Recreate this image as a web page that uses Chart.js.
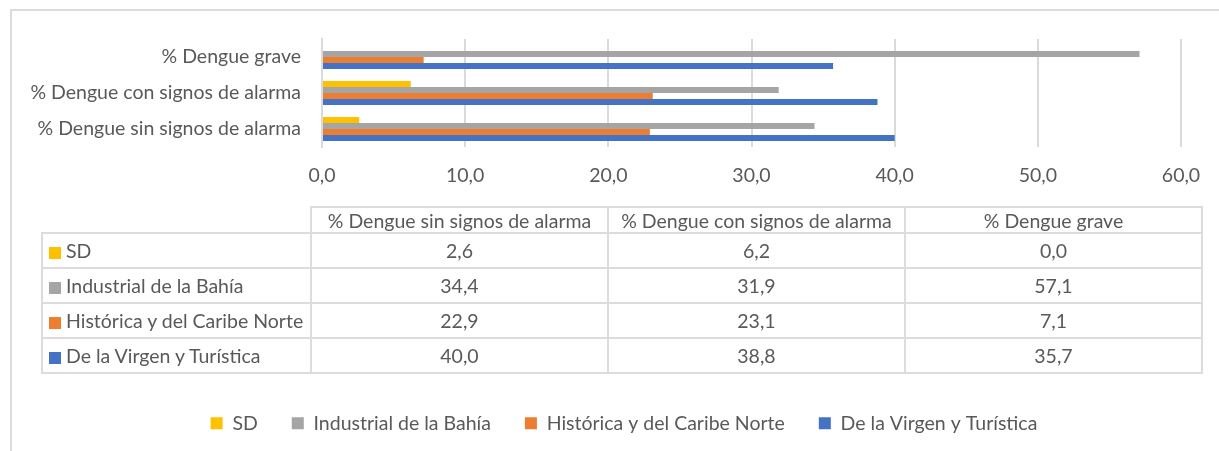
<!DOCTYPE html>
<html>
<head>
<meta charset="utf-8">
<script src="https://cdn.jsdelivr.net/npm/chart.js@4.4.1/dist/chart.umd.min.js"></script>
<style>
html,body{margin:0;padding:0;background:#fff;overflow:hidden;width:1219px;height:451px;}
#frame{position:absolute;left:10px;top:9px;width:1300px;height:500px;border-left:2px solid #dcdcdc;border-top:2px solid #dcdcdc;}
#wrap{position:absolute;left:0;top:0;width:1249px;height:443px;}
#tbl{position:absolute;left:41px;top:206px;border-collapse:collapse;table-layout:fixed;color:#595959;font-family:Lato,sans-serif;}
#tbl td,#tbl th{border:2px solid #dcdcdc;padding:0;font-weight:normal;white-space:nowrap;overflow:hidden;}
#tbl th{height:24px;text-align:center;}
#tbl th.blank{border:none;}
#tbl td{height:33px;text-align:center;}
#tbl td.lab{text-align:left;padding-left:6px;}
.sw{display:inline-block;width:12px;height:12px;margin-right:5px;vertical-align:-1px;}
</style>
</head>
<body>
<div id="frame"></div>
<div id="wrap"><canvas id="c" width="1249" height="443"></canvas></div>
<table id="tbl"></table>
<script>
// ---- data ----
const categories = ['% Dengue sin signos de alarma', '% Dengue con signos de alarma', '% Dengue grave'];
const seriesNames = ['SD', 'Industrial de la Bahía', 'Histórica y del Caribe Norte', 'De la Virgen y Turística'];
const sdValues = [2.6, 6.2, 0.0];
const industrialValues = [34.4, 31.9, 57.1];
const historicaValues = [22.9, 23.1, 7.1];
const virgenValues = [40.0, 38.8, 35.7];
const xTicks = [0, 10, 20, 30, 40, 50, 60];

// ---- styles ----
const colors = ['#FFC000', '#A5A5A5', '#ED7D31', '#4472C4'];
const seriesValues = [sdValues, industrialValues, historicaValues, virgenValues];
const textColor = '#595959';
const fam = 'Lato';

// fit font size so the longest category label matches the reference width
const mctx = document.createElement('canvas').getContext('2d');
mctx.font = '100px ' + fam;
const w100 = mctx.measureText(categories[0]).width;
const fs = Math.round(100 * 264 / w100 * 10) / 10;

const fmt = v => Number(v).toFixed(1).replace('.', ',');

// ---- table ----
const tbl = document.getElementById('tbl');
tbl.style.fontSize = fs + 'px';
let html = '<colgroup><col style="width:269px">' + categories.map(() => '<col style="width:297px">').join('') + '</colgroup>';
html += '<tr><th class="blank"></th>' + categories.map(c => '<th>' + c + '</th>').join('') + '</tr>';
seriesNames.forEach((n, i) => {
  html += '<tr><td class="lab"><span class="sw" style="background:' + colors[i] + '"></span>' + n + '</td>' +
    seriesValues[i].map(v => '<td>' + fmt(v) + '</td>').join('') + '</tr>';
});
tbl.innerHTML = html;

// ---- chart ----
Chart.defaults.font.family = fam;
Chart.defaults.font.size = fs;
Chart.defaults.color = textColor;
const CANVAS_H = 443;
const AREA_BOTTOM = 147;
const LEGEND_LEFT = 67;

const shiftLegend = {
  id: 'shiftLegend',
  afterLayout(chart) { if (chart.legend) { chart.legend.left = LEGEND_LEFT; } }
};

new Chart(document.getElementById('c'), {
  type: 'bar',
  data: {
    labels: categories,
    datasets: seriesNames.map((n, i) => ({
      label: n,
      data: seriesValues[i],
      backgroundColor: colors[i],
      borderWidth: 0,
      barPercentage: 1.0,
      categoryPercentage: 0.667
    }))
  },
  plugins: [shiftLegend],
  options: {
    indexAxis: 'y',
    responsive: false,
    animation: false,
    layout: { padding: { top: 39, right: 68, left: 0, bottom: 0 } },
    plugins: {
      tooltip: { enabled: false },
      legend: {
        position: 'bottom',
        labels: { boxWidth: 12, boxHeight: 12, padding: 34, color: textColor, font: { size: fs } }
      }
    },
    scales: {
      x: {
        min: 0, max: 60,
        afterBuildTicks: s => { s.ticks = xTicks.map(v => ({ value: v })); },
        afterFit: s => { s.height = CANVAS_H - AREA_BOTTOM - s.chart.legend.height; },
        ticks: { callback: v => fmt(v), padding: 17, color: textColor, font: { size: fs } },
        grid: { color: '#dadada', lineWidth: 2, drawTicks: false },
        border: { display: false }
      },
      y: {
        reverse: true,
        afterFit: s => { s.width = 322; },
        ticks: { padding: 21, color: textColor, font: { size: fs } },
        grid: { display: false, drawTicks: false },
        border: { display: true, color: '#dadada', width: 2 }
      }
    }
  }
});
</script>
</body>
</html>
